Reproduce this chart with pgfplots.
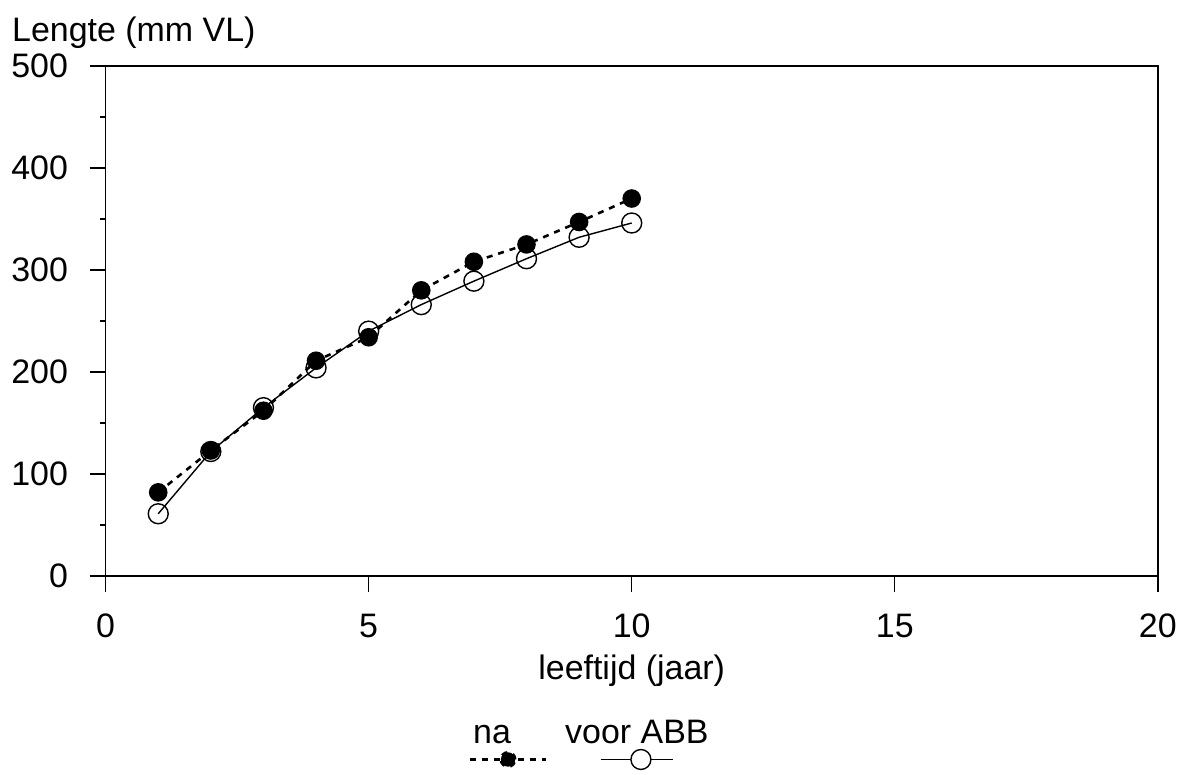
\documentclass[border=0pt]{standalone}
\usepackage{pgfplots}
\pgfplotsset{compat=1.18}
\usepackage{fontspec}
\setmainfont{Liberation Sans}
\begin{document}
\fontsize{17}{20}\selectfont
\begin{tikzpicture}
\begin{axis}[
  name=main,
  scale only axis,
  width=527pt, height=255.5pt,
  xmin=0, xmax=20, ymin=0, ymax=500,
  xtick={0,5,10,15,20},
  ytick={0,100,200,300,400,500},
  minor ytick={50,150,250,350,450},
  tick align=outside,
  xtick pos=bottom, ytick pos=left,
  major tick length=8pt, minor tick length=3pt,
  every tick/.style={black, line width=0.7pt},
  axis line style={line width=0.7pt},
  /pgf/number format/assume math mode=true,
  ticklabel style={font=\fontsize{17}{20}\selectfont},
  xticklabel style={yshift=-5pt},
  yticklabel style={xshift=-5pt},
  xlabel={leeftijd (jaar)},
  xlabel style={font=\fontsize{17}{20}\selectfont, yshift=3pt},
  legend columns=2,
  legend style={draw=none, fill=none, at={(rel axis cs:0.443,0)}, anchor=north, xshift=9pt, yshift=-70pt,
    /tikz/every even column/.append style={column sep=8pt},
    nodes={inner sep=0pt}},
]
\addplot[black, line width=1.3pt, dash pattern=on 3pt off 3pt,
  mark=*, mark size=4pt, mark options={solid, fill=black},
  legend image code/.code={
    \draw[black, line width=1.3pt, dash pattern=on 3pt off 3pt] (0pt,0pt) -- (38pt,0pt);
    \fill[black] (19pt,0pt) circle (3.6pt);
    \node[anchor=base, font=\fontsize{17}{20}\selectfont, inner sep=0pt] at (11pt,8pt) {na};
  }]
  coordinates {(1,82) (2,123) (3,162) (4,211) (5,234) (6,280) (7,308) (8,325) (9,347) (10,370)};
\addlegendentry{}
\addplot[black, line width=0.7pt,
  mark=o, mark size=5pt, mark options={solid, line width=0.7pt},
  legend image code/.code={
    \draw[black, line width=0.7pt] (0pt,0pt) -- (36pt,0pt);
    \draw[black, line width=0.7pt, fill=white] (20pt,0pt) circle (5pt);
    \node[anchor=base, font=\fontsize{17}{20}\selectfont, inner sep=0pt] at (18pt,8pt) {voor ABB};
  }]
  coordinates {(1,61) (2,122) (3,165) (4,204) (5,240) (6,266) (7,289) (8,311) (9,332) (10,346)};
\addlegendentry{}
\end{axis}
\node[anchor=base west, inner sep=0pt, font=\fontsize{17}{20}\selectfont] at ([xshift=-47pt, yshift=12pt]main.north west) {Lengte (mm VL)};
\path ([yshift=33pt]main.north west) coordinate (topmargin);
\end{tikzpicture}
\end{document}
